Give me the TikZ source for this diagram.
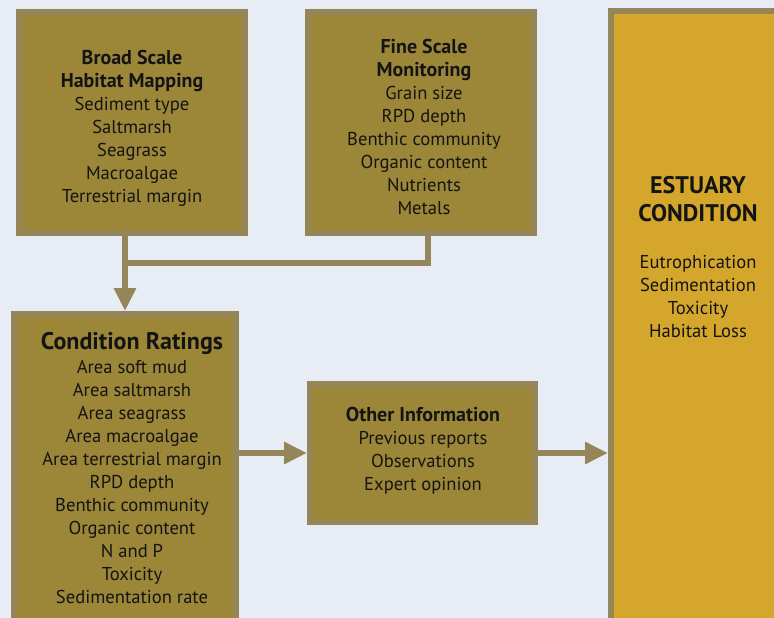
\documentclass[tikz,border=0pt]{standalone}
\usepackage{fontspec}
\setmainfont{PT Sans}
\usetikzlibrary{arrows.meta}
\definecolor{bg}{HTML}{E8ECF4}
\definecolor{olive}{HTML}{9C8637}
\definecolor{edge}{HTML}{958659}
\definecolor{gold}{HTML}{D4A72C}
\definecolor{ink}{HTML}{141414}
\newcommand{\hd}[1]{{\fontsize{20}{23}\selectfont\bfseries #1}}
\newcommand{\bighd}[1]{{\fontsize{24}{23}\selectfont\bfseries #1}}
\begin{document}
\begin{tikzpicture}[x=1pt,y=-1pt,
  box/.style={rectangle,draw=edge,line width=6pt,fill=olive,inner sep=0pt},
  txt/.style={align=center,text=ink,inner sep=0pt,font=\fontsize{18.6}{23}\selectfont},
  conn/.style={draw=edge,line width=6pt},
  arr/.style={conn,-{Triangle[width=21pt,length=23pt]}}]
\useasboundingbox (0,0) rectangle (774,618);
\fill[bg] (0,0) rectangle (774,618);
\clip (0,0) rectangle (774,618);
% boxes
\node[box,minimum width=226,minimum height=221] (b1) at (132,122.5) {};
\node[box,minimum width=226,minimum height=221] (b2) at (421,122.5) {};
\node[box,minimum width=222,minimum height=346] (b3) at (125,487) {};
\node[box,minimum width=225,minimum height=138] (b4) at (422.5,453) {};
\node[box,fill=gold,minimum width=209,minimum height=649] (b5) at (715.5,335.5) {};
% texts
\node[txt] (t1) at (132,128) {\hd{Broad Scale}\\\hd{Habitat Mapping}\\Sediment type\\Saltmarsh\\Seagrass\\Macroalgae\\Terrestrial margin};
\node[txt] (t2) at (424,127) {\hd{Fine Scale}\\\hd{Monitoring}\\Grain size\\RPD depth\\Benthic community\\Organic content\\Nutrients\\Metals};
\node[txt] (t3) at (132,468) {\bighd{Condition Ratings}\\[1pt]Area soft mud\\Area saltmarsh\\Area seagrass\\Area macroalgae\\Area terrestrial margin\\RPD depth\\Benthic community\\Organic content\\N and P\\Toxicity\\Sedimentation rate};
\node[txt] (t4) at (423,451) {\hd{Other Information}\\Previous reports\\Observations\\Expert opinion};
\node[txt] (t5) at (698,257) {\bighd{ESTUARY}\\[5pt]\bighd{CONDITION}\\[24pt]Eutrophication\\Sedimentation\\Toxicity\\Habitat Loss};
% connectors
\coordinate (j) at (125,263);
\draw[conn] ([xshift=7pt]b2.south) |- (j);
\draw[arr] (b1.south -| b3.north) -- (b3.north);
\draw[arr] (b3.east |- b4.west) -- (b4.west);
\draw[arr] (b4.east) -- (b4.east -| b5.west);
\end{tikzpicture}
\end{document}
